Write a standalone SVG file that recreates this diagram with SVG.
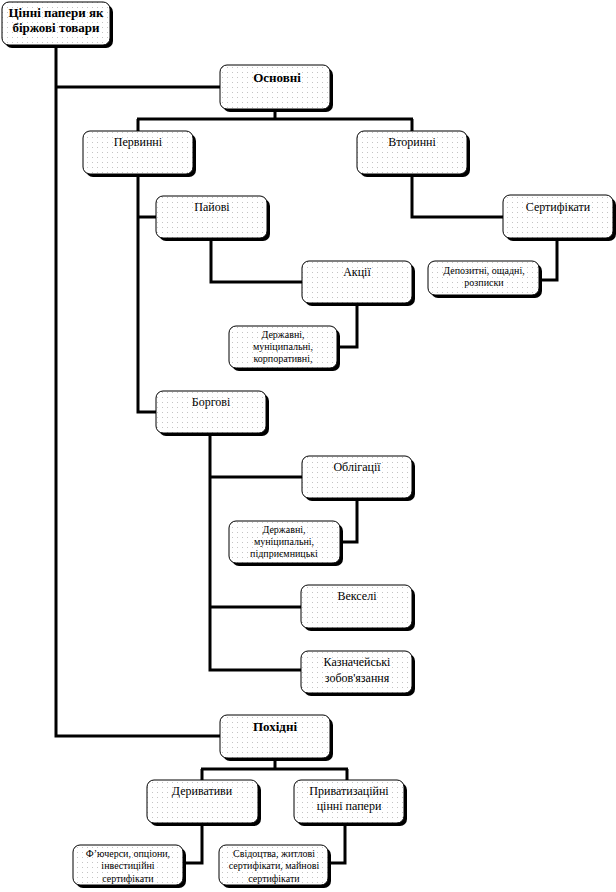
<svg xmlns="http://www.w3.org/2000/svg" width="616" height="892" viewBox="0 0 616 892">
<style>
.sh{fill:#000}
.bx{fill:url(#dots);stroke:#000;stroke-width:1}
.t{font-family:"Liberation Serif","Times New Roman",serif;font-size:12px;text-anchor:middle;fill:#000}
.b{font-weight:bold;font-size:13px}
.s{font-size:10px}
.c{fill:none;stroke:#000;stroke-width:3;stroke-linejoin:miter}
</style>
<defs>
<pattern id="dots" width="5" height="5" patternUnits="userSpaceOnUse">
<rect width="5" height="5" fill="#fff"/>
<rect x="2" y="2" width="1" height="1" fill="#c4c4c4"/>
</pattern>
</defs>
<rect width="616" height="892" fill="#fff"/>
<g id="connectors">
<path class="c" d="M56,45 V736 H220"/>
<path class="c" d="M56,87 H220"/>
<path class="c" d="M275,110 V119 M137,119 H413 M138,119 V131 M412,119 V131"/>
<path class="c" d="M138,175 V412 H156 M138,217 H156"/>
<path class="c" d="M211,238 V282 H302"/>
<path class="c" d="M357,303 V347 H337"/>
<path class="c" d="M412,175 V217 H503"/>
<path class="c" d="M557,238 V280 H539"/>
<path class="c" d="M210,433 V670 H301 M210,477 H302 M210,607 H301"/>
<path class="c" d="M357,498 V542 H340"/>
<path class="c" d="M275,758 V769 M201,769 H348 M202,769 V780 M347,769 V780"/>
<path class="c" d="M202,823 V863 H183"/>
<path class="c" d="M345,823 V863 H328"/>
</g>
<g id="root">
<rect class="sh" x="5" y="5" width="108" height="43" rx="7"/>
<rect class="bx" x="2" y="2" width="108" height="43" rx="7"/>
<text class="t b" x="56" y="17">Цінні папери як</text>
<text class="t b" x="56" y="32">біржові товари</text>
</g>
<g id="osnovni">
<rect class="sh" x="223" y="68" width="110" height="44" rx="7"/>
<rect class="bx" x="220" y="65" width="110" height="44" rx="7"/>
<text class="t b" x="277" y="82">Основні</text>
</g>
<g id="pervynni">
<rect class="sh" x="86" y="134" width="110" height="43" rx="7"/>
<rect class="bx" x="83" y="131" width="110" height="43" rx="7"/>
<text class="t" x="138" y="146">Первинні</text>
</g>
<g id="vtorynni">
<rect class="sh" x="360" y="134" width="110" height="43" rx="7"/>
<rect class="bx" x="357" y="131" width="110" height="43" rx="7"/>
<text class="t" x="412" y="146">Вторинні</text>
</g>
<g id="paiovi">
<rect class="sh" x="159" y="199" width="111" height="42" rx="7"/>
<rect class="bx" x="156" y="196" width="111" height="42" rx="7"/>
<text class="t" x="212" y="211">Пайові</text>
</g>
<g id="aktsii">
<rect class="sh" x="305" y="264" width="110" height="42" rx="7"/>
<rect class="bx" x="302" y="261" width="110" height="42" rx="7"/>
<text class="t" x="357" y="276">Акції</text>
</g>
<g id="aktsii-vydy">
<rect class="sh" x="232" y="329" width="108" height="42" rx="7"/>
<rect class="bx" x="229" y="326" width="108" height="42" rx="7"/>
<text class="t s" x="283" y="338">Державні,</text>
<text class="t s" x="283" y="350">муніципальні,</text>
<text class="t s" x="283" y="362">корпоративні,</text>
</g>
<g id="sertyfikaty">
<rect class="sh" x="506" y="198" width="110" height="43" rx="7"/>
<rect class="bx" x="503" y="195" width="110" height="43" rx="7"/>
<text class="t" x="558" y="211">Сертифікати</text>
</g>
<g id="depozytni">
<rect class="sh" x="431" y="264" width="111" height="34" rx="7"/>
<rect class="bx" x="428" y="261" width="111" height="34" rx="7"/>
<text class="t s" x="484" y="274">Депозитні, ощадні,</text>
<text class="t s" x="484" y="286">розписки</text>
</g>
<g id="borhovi">
<rect class="sh" x="159" y="394" width="110" height="42" rx="7"/>
<rect class="bx" x="156" y="391" width="110" height="42" rx="7"/>
<text class="t" x="211" y="406">Боргові</text>
</g>
<g id="oblihatsii">
<rect class="sh" x="305" y="459" width="110" height="42" rx="7"/>
<rect class="bx" x="302" y="456" width="110" height="42" rx="7"/>
<text class="t" x="357" y="471">Облігації</text>
</g>
<g id="oblihatsii-vydy">
<rect class="sh" x="232" y="524" width="111" height="42" rx="7"/>
<rect class="bx" x="229" y="521" width="111" height="42" rx="7"/>
<text class="t s" x="284" y="533">Державні,</text>
<text class="t s" x="284" y="545">муніципальні,</text>
<text class="t s" x="284" y="557">підприємницькі</text>
</g>
<g id="vekseli">
<rect class="sh" x="304" y="588" width="111" height="43" rx="7"/>
<rect class="bx" x="301" y="585" width="111" height="43" rx="7"/>
<text class="t" x="357" y="600">Векселі</text>
</g>
<g id="kaznacheiski">
<rect class="sh" x="304" y="654" width="111" height="42" rx="7"/>
<rect class="bx" x="301" y="651" width="111" height="42" rx="7"/>
<text class="t" x="357" y="666">Казначейські</text>
<text class="t" x="357" y="682">зобов'язання</text>
</g>
<g id="pokhidni">
<rect class="sh" x="223" y="718" width="110" height="43" rx="7"/>
<rect class="bx" x="220" y="715" width="110" height="43" rx="7"/>
<text class="t b" x="275" y="731">Похідні</text>
</g>
<g id="deryvatyvy">
<rect class="sh" x="150" y="783" width="111" height="43" rx="7"/>
<rect class="bx" x="147" y="780" width="111" height="43" rx="7"/>
<text class="t" x="202" y="795">Деривативи</text>
</g>
<g id="pryvatyzatsiini">
<rect class="sh" x="297" y="783" width="110" height="43" rx="7"/>
<rect class="bx" x="294" y="780" width="110" height="43" rx="7"/>
<text class="t" x="349" y="795">Приватизаційні</text>
<text class="t" x="349" y="810">цінні папери</text>
</g>
<g id="fiuchersy">
<rect class="sh" x="76" y="848" width="110" height="40" rx="7"/>
<rect class="bx" x="73" y="845" width="110" height="40" rx="7"/>
<text class="t s" x="128" y="857">Ф’ючерси, опціони,</text>
<text class="t s" x="128" y="869">інвестиційні</text>
<text class="t s" x="128" y="882">сертифікати</text>
</g>
<g id="svidotstva">
<rect class="sh" x="222" y="848" width="109" height="40" rx="7"/>
<rect class="bx" x="219" y="845" width="109" height="40" rx="7"/>
<text class="t s" x="274" y="857">Свідоцтва, житлові</text>
<text class="t s" x="274" y="869">сертифікати, майнові</text>
<text class="t s" x="274" y="882">сертифікати</text>
</g>
</svg>
